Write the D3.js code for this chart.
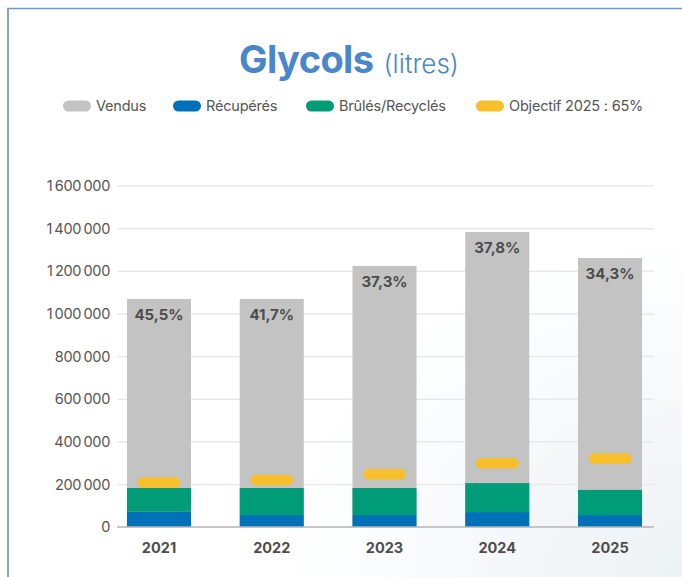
<!DOCTYPE html>
<html>
<head>
<meta charset="utf-8">
<script src="https://cdn.jsdelivr.net/npm/d3@7"></script>
<style>
  html, body { margin: 0; padding: 0; background: #fff; }
  svg { display: block; }
</style>
</head>
<body>
<svg id="chart" width="682" height="577"></svg>
<script>
// ---- Data ----
const years = ["2021", "2022", "2023", "2024", "2025"];
const vendus = [1070000, 1070000, 1225000, 1384000, 1262000];
const recuperes = [72000, 56000, 56000, 70000, 56000];
const brulesRecycles = [111000, 127000, 127000, 136000, 118000];
const objectif = [209000, 220000, 247000, 299000, 321000];
const pctLabels = ["45,5%", "41,7%", "37,3%", "37,8%", "34,3%"];
const yTicks = [0, 200000, 400000, 600000, 800000, 1000000, 1200000, 1400000, 1600000];
const legendLabels = ["Vendus", "Récupérés", "Brûlés/Recyclés", "Objectif 2025 : 65%"];

const colors = { vendus: "#c2c3c2", recup: "#0070b8", brules: "#009b77", obj: "#f7bf2c" };
const FONT = "Inter, 'Noto Sans', sans-serif";

const svg = d3.select("#chart");

// background subtle gradient
const defs = svg.append("defs");
const rg = defs.append("radialGradient").attr("id", "bg")
  .attr("cx", "100%").attr("cy", "100%").attr("r", "60%");
rg.append("stop").attr("offset", "0%").attr("stop-color", "#edf2f5");
rg.append("stop").attr("offset", "100%").attr("stop-color", "#ffffff");
svg.append("rect").attr("x", 0).attr("y", 0).attr("width", 682).attr("height", 577).attr("fill", "url(#bg)");

// frame lines (left and top)
svg.append("line").attr("x1", 8).attr("x2", 8).attr("y1", 8).attr("y2", 577)
  .attr("stroke", "#7fa5db").attr("stroke-width", 2);
svg.append("line").attr("x1", 7).attr("x2", 682).attr("y1", 8.5).attr("y2", 8.5)
  .attr("stroke", "#6f98d2").attr("stroke-width", 1.5);

// title
const title = svg.append("text").attr("x", 349).attr("y", 73).attr("text-anchor", "middle")
  .attr("font-family", FONT).attr("fill", "#4a86c8");
title.append("tspan").attr("font-size", 38).attr("font-weight", 700).attr("letter-spacing", -0.6).text("Glycols");
title.append("tspan").attr("font-size", 26).attr("font-weight", 300).attr("dx", 10).text("(litres)");

// legend
const legendColors = [colors.vendus, colors.recup, colors.brules, colors.obj];
const legendX = [63, 173, 306, 476];
legendLabels.forEach((lab, i) => {
  const g = svg.append("g").attr("transform", `translate(${legendX[i]},106)`);
  g.append("rect").attr("x", 0).attr("y", -5.5).attr("width", 28).attr("height", 11).attr("rx", 5.5)
    .attr("fill", legendColors[i]);
  g.append("text").attr("x", 33).attr("y", 0).attr("dy", "0.35em")
    .attr("font-family", FONT).attr("font-size", 14.5).attr("fill", "#555").attr("letter-spacing", -0.2).text(lab);
});

// scales
const y = d3.scaleLinear().domain([0, 1600000]).range([527, 186]);
const x = d3.scaleBand().domain(years).range([102.6, 666.4]).paddingInner(0.432).paddingOuter(0.216);
const gridX0 = 117, gridX1 = 654;

// gridlines
svg.append("g").selectAll("line").data(yTicks.filter(d => d > 0)).join("line")
  .attr("x1", gridX0).attr("x2", gridX1)
  .attr("y1", d => y(d)).attr("y2", d => y(d))
  .attr("stroke", "#e9e9e9").attr("stroke-width", 1.5);

// y axis labels
const yAxis = d3.axisLeft(y).tickValues(yTicks).tickSize(0).tickPadding(0)
  .tickFormat(d => d3.format(",")(d).replace(/,/g, "\u2009"));
const yg = svg.append("g").attr("transform", "translate(110,0)").call(yAxis);
yg.select(".domain").remove();
yg.selectAll("text").attr("font-family", FONT).attr("font-size", 14.5).attr("fill", "#555").attr("letter-spacing", -0.3);

// vendus bars
svg.append("g").selectAll("rect").data(years).join("rect")
  .attr("x", d => x(d)).attr("width", x.bandwidth())
  .attr("y", (d, i) => y(vendus[i])).attr("height", (d, i) => y(0) - y(vendus[i]))
  .attr("fill", colors.vendus);

// stacked recup + brules
const stackData = years.map((yr, i) => ({ year: yr, recup: recuperes[i], brules: brulesRecycles[i] }));
const series = d3.stack().keys(["recup", "brules"])(stackData);
svg.append("g").selectAll("g").data(series).join("g")
  .attr("fill", s => colors[s.key])
  .selectAll("rect").data(s => s).join("rect")
  .attr("x", d => x(d.data.year)).attr("width", x.bandwidth())
  .attr("y", d => y(d[1])).attr("height", d => y(d[0]) - y(d[1]));

// objectif pills
const pillW = 43, pillH = 10.5;
svg.append("g").selectAll("rect").data(years).join("rect")
  .attr("x", d => x(d) + x.bandwidth() / 2 - pillW / 2).attr("width", pillW)
  .attr("y", (d, i) => y(objectif[i]) - pillH / 2).attr("height", pillH)
  .attr("rx", pillH / 2).attr("fill", colors.obj);

// percentage labels
svg.append("g").selectAll("text").data(years).join("text")
  .attr("x", d => x(d) + x.bandwidth() / 2)
  .attr("y", (d, i) => y(vendus[i]) + 16).attr("dy", "0.35em")
  .attr("text-anchor", "middle").attr("font-family", FONT).attr("font-weight", 700)
  .attr("font-size", 15).attr("fill", "#4d4d4d")
  .text((d, i) => pctLabels[i]);

// baseline
svg.append("line").attr("x1", gridX0).attr("x2", gridX1).attr("y1", y(0)).attr("y2", y(0))
  .attr("stroke", "#b5b5b5").attr("stroke-width", 1.5);

// x axis labels
const xAxis = d3.axisBottom(x).tickSize(0).tickPadding(0);
const xg = svg.append("g").attr("transform", "translate(0,548)").call(xAxis);
xg.select(".domain").remove();
xg.selectAll("text").attr("dy", "0.35em").attr("font-family", FONT).attr("font-weight", 700)
  .attr("font-size", 14.5).attr("fill", "#4d4d4d");
</script>
</body>
</html>
